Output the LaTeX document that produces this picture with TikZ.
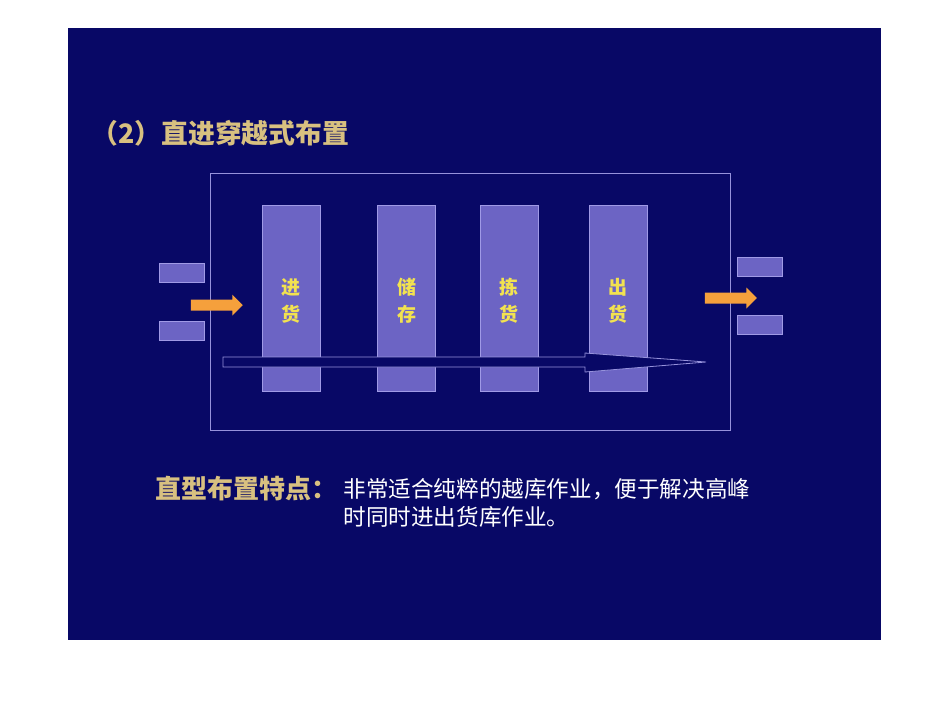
\documentclass[tikz,border=0pt]{standalone}
\usepackage{fontspec}
\newfontfamily\cjk{Noto Sans CJK SC}
\usetikzlibrary{shapes.arrows}
\definecolor{bg}{RGB}{8,8,102}
\definecolor{colfill}{RGB}{108,100,196}
\definecolor{colline}{RGB}{160,154,230}
\definecolor{frame}{RGB}{150,146,220}
\definecolor{flowc}{RGB}{245,160,60}
\definecolor{gold}{RGB}{216,192,128}
\definecolor{yel}{RGB}{242,226,80}
\newcommand{\zonetext}[2]{\raisebox{-23pt}[0pt][0pt]{\shortstack{#1\\[5pt]#2}}}

\begin{document}
\begin{tikzpicture}[x=1pt, y=-1pt, line width=1pt,
    col/.style = {draw=colline, fill=colfill, minimum width=58pt, minimum height=186pt, inner sep=0pt, text=yel, font=\cjk\bfseries\fontsize{19}{27}\selectfont, align=center},
    dock/.style = {draw=colline, fill=colfill, minimum width=45pt, minimum height=19pt, inner sep=0pt},
    flow/.style = {single arrow, fill=flowc, inner sep=5pt, single arrow head extend=5pt, minimum height=52pt}]
    \useasboundingbox (0,0) rectangle (950,713);
    \fill[white] (0,0) rectangle (950,713);
    \fill[bg] (68,28) rectangle (881,640);
    % title
    \node[anchor=west, inner sep=0pt, text=gold, font=\cjk\bfseries\fontsize{26.8}{26.8}\selectfont] (title) at (91,133) {（2）直进穿越式布置};
    % hall and zones
    \node[draw=frame, minimum width=520pt, minimum height=257pt] (hall) at (470,301.5) {};
    \node[col] (recv) at (291,298) {\zonetext{进}{货}};
    \node[col] (store) at (406.5,298) {\zonetext{储}{存}};
    \node[col] (pick) at (509,298) {\zonetext{拣}{货}};
    \node[col] (ship) at (618,298) {\zonetext{出}{货}};
    % docks
    \node[dock] (in1) at (182,273) {};
    \node[dock] (in2) at (182,330.5) {};
    \node[dock] (out1) at (759.5,267) {};
    \node[dock] (out2) at (759.5,324.5) {};
    \node[flow] (arrin) at (214,305) {};
    \node[flow] (arrout) at (728,298) {};
    % through flow
    \draw[draw=frame, fill=bg, line width=0.8pt] (223,357) -- (585,357) -- (585,353) -- (706,362) -- (585,372) -- (585,367) -- (223,367) -- cycle;
    % notes
    \node[anchor=west, inner sep=0pt, text=gold, font=\cjk\bfseries\fontsize{26}{26}\selectfont] (lbl) at (155,489) {直型布置特点：};
    \node[anchor=north west, inner sep=0pt, text=white, align=left, font=\cjk\fontsize{22.6}{28}\selectfont] (desc) at (343,478) {非常适合纯粹的越库作业，便于解决高峰\\时同时进出货库作业。};
\end{tikzpicture}
\end{document}
